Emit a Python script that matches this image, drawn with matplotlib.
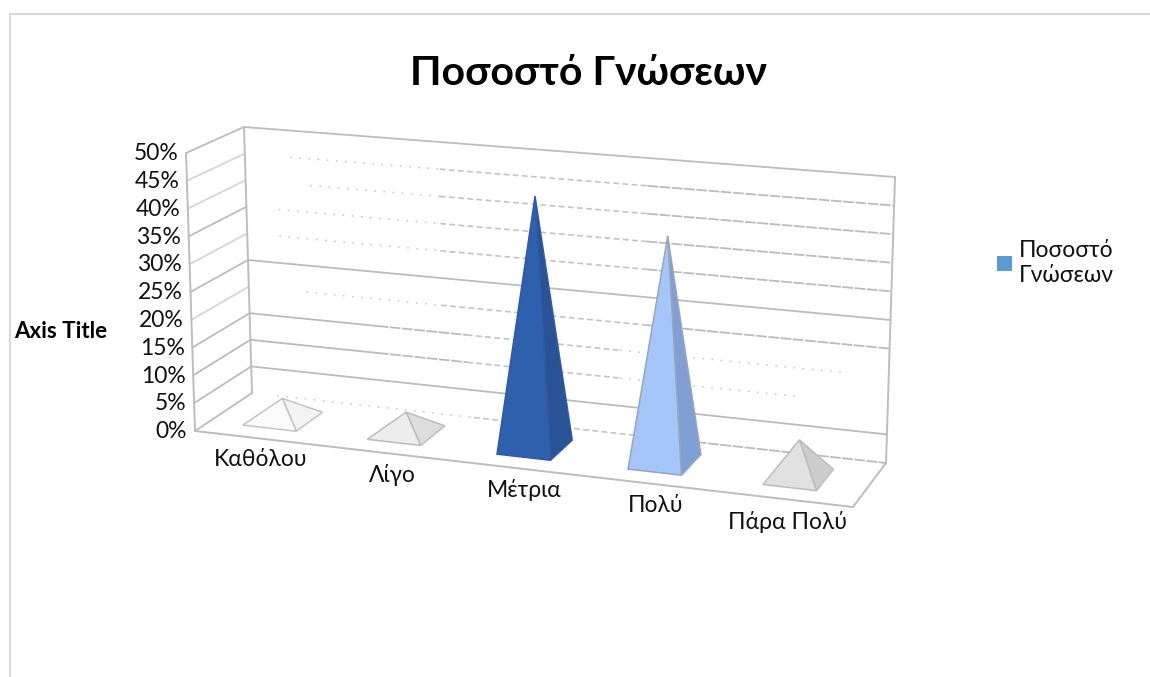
import matplotlib
matplotlib.use("Agg")
import matplotlib.pyplot as plt
from matplotlib.patches import Polygon, Patch

plt.rcParams['font.family'] = ['Lato', 'Open Sans', 'DejaVu Sans']

# ---- data ----
title = 'Ποσοστό Γνώσεων'
series_name = 'Ποσοστό\nΓνώσεων'
axis_title = 'Axis Title'
categories = ['Καθόλου', 'Λίγο', 'Μέτρια', 'Πολύ', 'Πάρα Πολύ']
values = [3.7, 3.7, 44.5, 39.5, 6.4]
y_ticks = [0, 5, 10, 15, 20, 25, 30, 35, 40, 45, 50]

# ---- styling / layout ----
face_colors = [('#fbfbfb', '#f3f3f3'), ('#ededed', '#dddddd'), ('#2f60ad', '#2a5296'),
               ('#a5c6f8', '#7f9fd6'), ('#e1e1e1', '#cdcdcd')]
edge_colors = ['#c4c4c4', '#bdbdbd', '#2f5ba5', '#9aa6b8', '#bdbdbd']
# wall corners in pixels
FL0, FR0, BL0, BR0 = (195, 431), (853, 507), (252, 393), (886, 463)
FL1, FR1, BL1, BR1 = (186, 153), (863, 208), (244, 127), (895, 177)
N = len(categories)
VMAX = 50
bar_slots = [0.46, 1.415, 2.41, 3.415, 4.45]
label_drop = [15, 15, 15, 15, 16.5]
# (start, end, kind) along each back-wall gridline
grid_styles = {
    50: [(0, 1, 's')],
    45: [(.07, .30, 'o'), (.30, .62, 'd'), (.62, 1, 'D')],
    40: [(.10, .30, 'o'), (.30, .62, 'd'), (.62, 1, 'D')],
    35: [(.05, .30, 'o'), (.30, .62, 'd'), (.62, 1, 'D')],
    30: [(.05, .30, 'o'), (.30, .62, 'd'), (.62, 1, 'D')],
    25: [(0, 1, 's')],
    20: [(.09, .30, 'o'), (.30, .62, 'd'), (.62, 1, 'D')],
    15: [(0, .20, 's'), (.20, .34, 'D'), (.34, .58, 'd'), (.58, .93, 'o')],
    10: [(0, .20, 's'), (.20, .34, 'D'), (.34, .58, 'd'), (.58, .86, 'o')],
    5:  [(0, 1, 's')],
    0:  [(.04, .35, 'o'), (.35, .70, 'd'), (.70, 1, 'D')],
}
grid_kw = {'s': dict(color='#bcbcbc', lw=1.3, ls='-'),
           'D': dict(color='#bcbcbc', lw=1.3, ls=(0, (6, 0.8))),
           'd': dict(color='#c4c4c4', lw=1.2, ls=(0, (3.5, 2.0))),
           'o': dict(color='#c4c4c4', lw=1.1, ls=(0, (1, 5)))}


def lerp(a, b, t):
    return a + (b - a) * t


def proj(c, d, v):
    """Category position c, depth d (0 front..1 back), value v -> pixel."""
    u, w = c / N, v / VMAX
    out = []
    for i in (0, 1):
        floor = lerp(lerp(FL0[i], FR0[i], u), lerp(BL0[i], BR0[i], u), d)
        top = lerp(lerp(FL1[i], FR1[i], u), lerp(BL1[i], BR1[i], u), d)
        out.append(lerp(floor, top, w))
    return tuple(out)


def seg(ax, p, q, **kw):
    ax.plot([p[0], q[0]], [p[1], q[1]], solid_capstyle='round', zorder=kw.pop('zorder', 2), **kw)


fig = plt.figure(figsize=(11.5, 6.77), dpi=100)
ax = fig.add_axes([0, 0, 1, 1])
ax.set_xlim(0, 1150)
ax.set_ylim(677, 0)
ax.axis('off')

# chart frame
ax.plot([10, 10, 1150], [677, 14, 14], color='#d9d9d9', lw=1.5)

# back wall gridlines
for v in y_ticks:
    for a, b, kind in grid_styles[v]:
        seg(ax, proj(a * N, 1, v), proj(b * N, 1, v), **grid_kw[kind])

# left wall gridlines
for v in y_ticks:
    strong = v in (0, 5, 10, 15, 25, 35, 50)
    seg(ax, proj(0, 0, v), proj(0, 1, v), color='#bcbcbc' if strong else '#d6d6d6', lw=1.3)

# wall edges and floor
edge = dict(color='#bdbdbd', lw=1.4)
seg(ax, proj(0, 0, 0), proj(0, 0, VMAX), **edge)
seg(ax, proj(0, 1, 0), proj(0, 1, VMAX), **edge)
seg(ax, proj(N, 1, 0), proj(N, 1, VMAX), **edge)
seg(ax, proj(0, 0, 0), proj(N, 0, 0), **edge)
seg(ax, proj(N, 0, 0), proj(N, 1, 0), **edge)

# pyramids
HALF_W, HALF_D = 0.205, 0.245
for i, v in enumerate(values):
    c = bar_slots[i]
    fl = proj(c - HALF_W, .5 - HALF_D, 0)
    fr = proj(c + HALF_W, .5 - HALF_D, 0)
    br = proj(c + HALF_W, .5 + HALF_D, 0)
    apex = proj(c, .5, v)
    front, side = face_colors[i]
    ax.add_patch(Polygon([fr, br, apex], closed=True, fc=side, ec=edge_colors[i], lw=1.1, zorder=4))
    ax.add_patch(Polygon([fl, fr, apex], closed=True, fc=front, ec=edge_colors[i], lw=1.1, zorder=5))

# tick labels
for v in y_ticks:
    x, y = proj(0, 0, v)
    ax.annotate(f'{v}%', (x, y), xytext=(-5.5, -0.5), textcoords='offset points',
                ha='right', va='center', fontsize=16.5, color='#111111')
for i, name in enumerate(categories):
    x, y = proj(i + .5, 0, 0)
    ax.annotate(name, (x, y), xytext=(0, -label_drop[i]), textcoords='offset points',
                ha='center', va='center', fontsize=16.5, color='#111111')

ax.set_title(title, x=588 / 1150, y=1 - 93 / 677, fontsize=29.5, fontweight='bold', color='black', va='baseline')
ax.text(61, 331, axis_title, ha='center', va='center', fontsize=16, fontweight='bold', color='black')

leg = ax.legend(handles=[Patch(fc='#5b9bd5', ec='none', label=series_name)],
                loc='center left', bbox_to_anchor=(997 / 1150, 1 - 263 / 677), frameon=False,
                fontsize=16.5, handlelength=0.65, handleheight=0.65, handletextpad=0.32,
                labelspacing=0, borderpad=0, borderaxespad=0)
for t in leg.get_texts():
    t.set_linespacing(1.2)
    t.set_color('#111111')

fig.savefig('out.png', dpi=100)
